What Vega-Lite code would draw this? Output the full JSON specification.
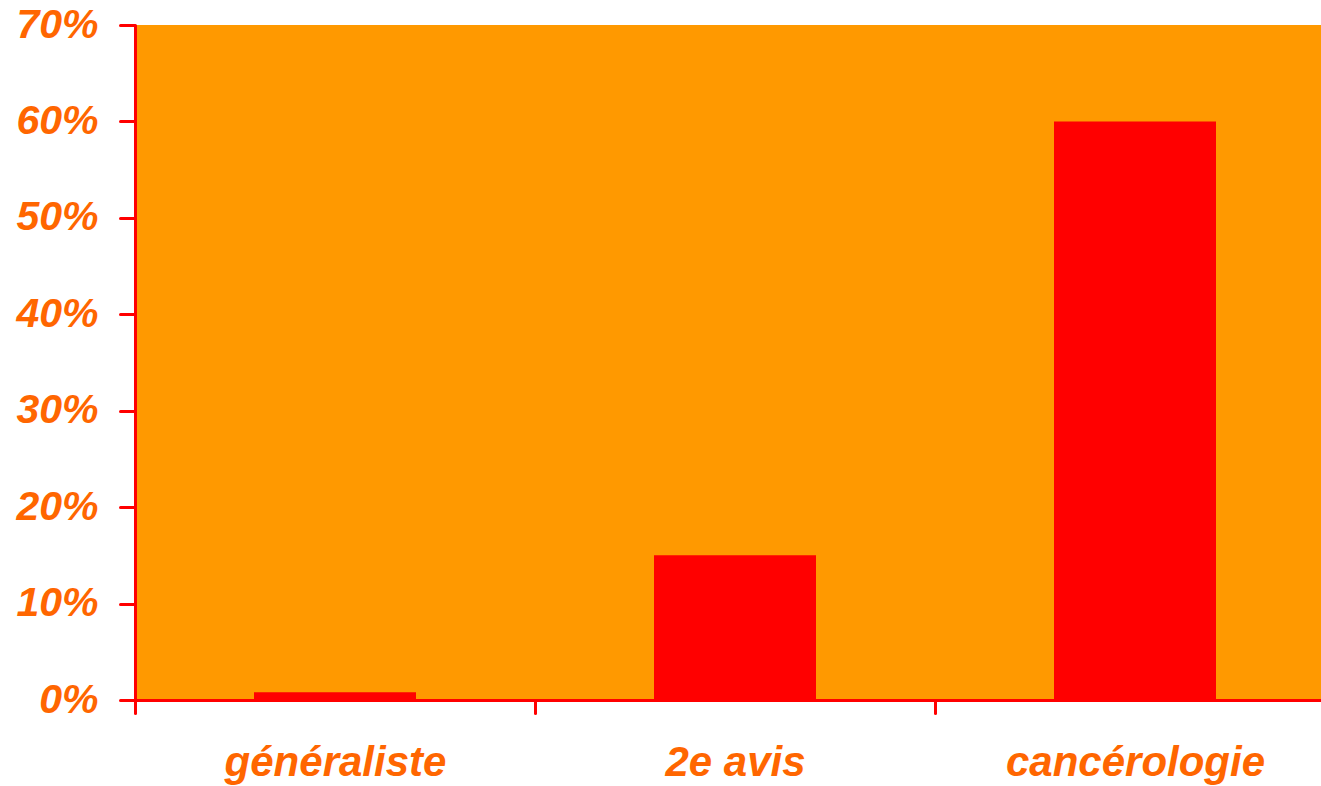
{
  "$schema": "https://vega.github.io/schema/vega-lite/v6.json",
  "autosize": {"type": "none"},
  "padding": {"left": 135, "top": 25, "right": 0, "bottom": 86},
  "width": 1186,
  "height": 675,
  "background": "white",
  "view": {"fill": "#FF9900", "stroke": null},
  "data": {"values": [
    {"cat": "généraliste", "val": 0.008},
    {"cat": "2e avis", "val": 0.15},
    {"cat": "cancérologie", "val": 0.60}
  ]},
  "mark": {"type": "bar", "color": "#FF0000"},
  "encoding": {
    "x": {
      "field": "cat", "type": "nominal", "sort": null, "title": null,
      "scale": {"paddingInner": 0.595, "paddingOuter": 0.2975, "range": [0, 1200]},
      "axis": {
        "labelAngle": 0, "domainColor": "#FF0000", "domainWidth": 3,
        "tickColor": "#FF0000", "tickWidth": 3, "tickSize": 13, "tickCap": "round",
        "tickOffset": -200, "labelOffset": 200, "labelLimit": 0,
        "labelFont": "Liberation Sans", "labelFontSize": 42, "labelFontWeight": "bold",
        "labelFontStyle": "italic", "labelColor": "#FF6600", "labelPadding": 29,
        "labelBaseline": "top"
      }
    },
    "y": {
      "field": "val", "type": "quantitative", "title": null,
      "scale": {"domain": [0, 0.7], "nice": false},
      "axis": {
        "values": [0, 0.1, 0.2, 0.3, 0.4, 0.5, 0.6, 0.7], "format": ".0%", "grid": false,
        "domainColor": "#FF0000", "domainWidth": 3,
        "tickColor": "#FF0000", "tickWidth": 3, "tickSize": 15, "tickCap": "round",
        "labelFont": "Liberation Sans", "labelFontSize": 41, "labelFontWeight": "bold",
        "labelFontStyle": "italic", "labelColor": "#FF6600", "labelPadding": 22,
        "labelBaseline": "middle", "labelLimit": 0
      }
    }
  }
}
